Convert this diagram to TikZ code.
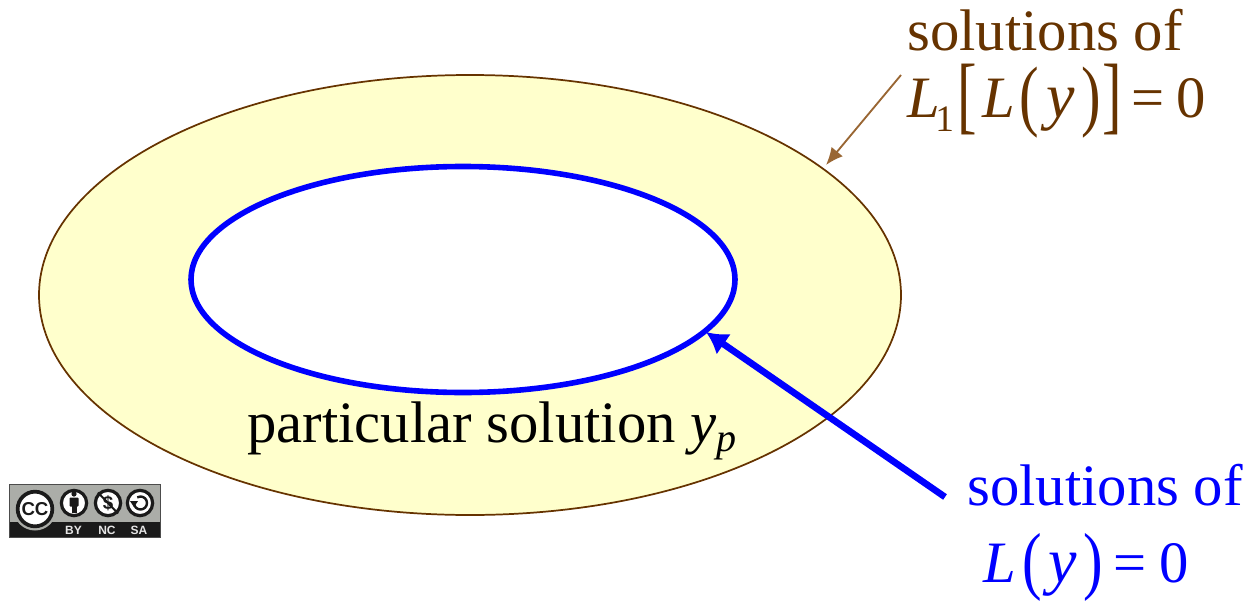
\documentclass[tikz,border=0pt]{standalone}
\usepackage{fontspec}
\usepackage{graphicx}
\usetikzlibrary{shapes.geometric,arrows.meta}
\setmainfont{Liberation Serif}
\newfontfamily\badgefont{Liberation Sans}
\definecolor{brtext}{HTML}{663300}
\definecolor{brarrow}{HTML}{996633}
\definecolor{bandfill}{HTML}{FFFFCC}
\definecolor{blueline}{HTML}{0000FF}
\definecolor{badgegrey}{HTML}{ABADA8}
\definecolor{badgeblack}{HTML}{1A1A1A}
\newcommand{\fs}[1]{\fontsize{#1}{#1}\selectfont}
% a glyph in a cell of fixed width (in reference pixels)
\newcommand{\cell}[2]{\makebox[#1\dimexpr0.75pt\relax][l]{#2}}
% a tall thin delimiter: vertical stretch, lowered by #2
\newcommand{\tall}[3]{\raisebox{-#2}{\scalebox{1}[#1]{#3}}}
\tikzset{
  x=0.75pt,y=-0.75pt,
  label text/.style={inner sep=0pt,anchor=base west,font=\fs{44}},
  ccring/.style={circle,draw=badgeblack,fill=white,line width=2.4pt,inner sep=0pt,minimum size=#1},
  cclabel/.style={inner sep=0pt,text=white!90!black,font=\badgefont\bfseries\fs{9}},
}
\begin{document}
\begin{tikzpicture}
\useasboundingbox (0,0) rectangle (1256,600);
% ellipses
\node[ellipse,draw=brtext,fill=bandfill,line width=1.3pt,inner sep=0pt,minimum width=646.5pt,minimum height=330pt] (outer) at (470,295) {};
\node[ellipse,draw=blueline,fill=white,line width=4.2pt,inner sep=0pt,minimum width=408pt,minimum height=169.5pt] (inner) at (463,279.5) {};
% labels
\node[label text,text=brtext] (brlabel) at (907,50) {solutions of};
\node[label text,text=brtext] (breq) at (907,117) {\cell{28}{\textit{L}}\cell{22}{\raisebox{-10.5pt}{\fs{28}1}}\cell{25}{\tall{1.46}{5pt}{[}}\cell{37}{\textit{L}}\cell{27}{\tall{1.34}{3pt}{(}}\cell{35}{\fs{48}\textit{y}}\cell{21}{\tall{1.34}{3pt}{)}}\cell{29}{\tall{1.46}{5pt}{]}}\cell{45}{=}0};
\node[label text,text=blueline] (bllabel) at (967,505) {solutions of};
\node[label text,text=blueline] (bleq) at (983,582) {\cell{39}{\textit{L}}\cell{26}{\tall{1.28}{2.8pt}{(}}\cell{35}{\fs{48}\textit{y}}\cell{30}{\tall{1.28}{2.8pt}{)}}\cell{46}{=}0};
\node[label text] (part) at (247,442.5) {particular solution \textit{y}\raisebox{-7pt}{\fs{30}\textit{p}}};
% arrows
\coordinate (brtail) at (901,75);
\coordinate (brhead) at (826,165);
\coordinate (bltail) at (945,497);
\coordinate (blhead) at (706,332);
\draw[brarrow,line width=1.4pt,-{Latex[length=13pt,width=11pt]}] (brtail) -- (brhead);
\draw[blueline,line width=5pt,-{Latex[length=16pt,width=19pt]}] (bltail) -- (blhead);
% cc badge
\fill[badgegrey] (9,484) rectangle (160,522);
\fill[badgeblack] (9,522) rectangle (160,537.5);
\draw[black!70,line width=0.5pt] (9,484) rectangle (160,537.5);
\begin{scope}
\clip (9,484) rectangle (160,537.5);
\fill[badgegrey] (35,509) circle (21.5);
\end{scope}
\node[ccring=26pt,line width=2.8pt] (cc) at (35,509) {};
\node[inner sep=0pt,text=badgeblack,font=\badgefont\bfseries\fs{14}] (cct) at (35,509) {CC};
\node[ccring=19pt] (by) at (74,503) {};
\node[ccring=19pt] (nc) at (108,503) {};
\node[ccring=19pt] (sa) at (140,503) {};
\fill[badgeblack] (74,494) circle (2.6);
\fill[badgeblack,rounded corners=0.6pt] (69.5,497.5) rectangle (78.5,506.5);
\fill[badgeblack] (71.5,505) rectangle (76.5,513);
\node[inner sep=0pt,text=badgeblack,font=\badgefont\bfseries\fs{14}] (ncs) at (108,503) {\$};
\draw[badgeblack,line width=1.5pt] (98,492.5) -- (118,513.5);
\draw[badgeblack,line width=1.8pt] (134,503) arc[start angle=180,end angle=-120,radius=6.5];
\fill[badgeblack] (130,501) -- (138,501) -- (134,507) -- cycle;
\node[cclabel] (lby) at (73.5,530) {BY};
\node[cclabel] (lnc) at (107,530) {NC};
\node[cclabel] (lsa) at (139,530) {SA};
\end{tikzpicture}
\end{document}
